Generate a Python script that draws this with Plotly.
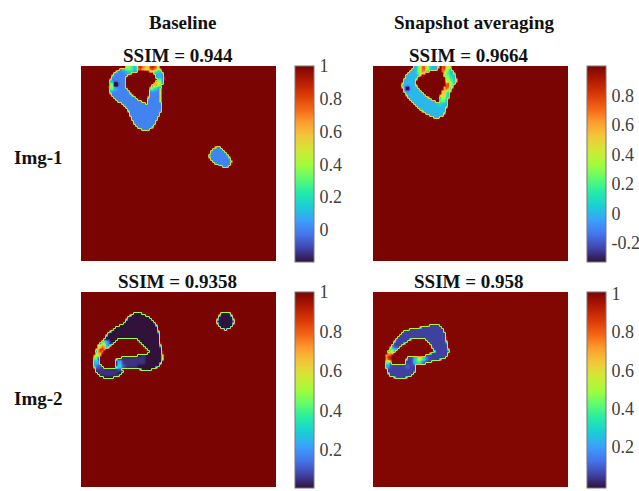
import numpy as np
import plotly.graph_objects as go

W, H = 639, 491
GRID = 98          # cells per panel side (2 px each)
FONT = "Liberation Serif"

# Region outlines. Each entry: row -> [left, right, left, right, ...]
# spans inside the region, in thirds of a picture pixel measured from the panel's left edge.
img1_baseline_spans = {
    0: [132, 232], 1: [115, 237], 2: [105, 167, 202, 242], 3: [98, 152, 215, 244], 4: [93, 140, 221, 247],
    5: [90, 134, 224, 248], 6: [87, 132, 226, 248], 7: [85, 131, 223, 247], 8: [84, 131, 217, 245],
    9: [83, 132, 211, 241], 10: [82, 134, 207, 238], 11: [83, 137, 205, 237], 12: [85, 142, 204, 237],
    13: [87, 147, 203, 237], 14: [91, 153, 202, 237], 15: [95, 161, 201, 237], 16: [101, 170, 200, 237],
    17: [108, 182, 199, 237], 18: [119, 193, 197, 239], 19: [128, 240], 20: [134, 240], 21: [138, 240],
    22: [141, 238], 23: [143, 235], 24: [146, 233], 25: [148, 230], 26: [150, 227], 27: [154, 224],
    28: [158, 221], 29: [163, 218], 30: [169, 213], 31: [178, 205],
    40: [405, 419], 41: [397, 427], 42: [392, 434], 43: [388, 438], 44: [386, 442], 45: [387, 447],
    46: [391, 451], 47: [397, 453], 48: [404, 452], 49: [412, 449], 50: [424, 442],
}
img1_snapshot_spans = {
    0: [119, 195, 203, 231], 1: [113, 191, 205, 235], 2: [108, 166, 207, 239], 3: [102, 155, 209, 243],
    4: [97, 141, 212, 246], 5: [94, 134, 214, 248], 6: [92, 129, 216, 249], 7: [89, 125, 217, 249],
    8: [87, 126, 217, 246], 9: [86, 129, 216, 241], 10: [87, 134, 212, 237], 11: [89, 138, 208, 234],
    12: [92, 142, 205, 231], 13: [95, 149, 203, 229], 14: [99, 156, 201, 227], 15: [103, 165, 199, 226],
    16: [108, 174, 198, 224], 17: [114, 185, 197, 223], 18: [121, 222], 19: [127, 221], 20: [133, 219],
    21: [140, 217], 22: [147, 215], 23: [155, 213], 24: [166, 209], 25: [179, 197],
}
img2_baseline_spans = {
    10: [157, 182], 11: [147, 194], 12: [140, 203], 13: [135, 210], 14: [131, 216], 15: [125, 220],
    16: [115, 225], 17: [103, 228], 18: [94, 229], 19: [87, 231], 20: [80, 232], 21: [75, 233], 22: [71, 235],
    23: [66, 109, 169, 235], 24: [60, 103, 172, 235], 25: [55, 94, 178, 236], 26: [50, 87, 184, 237],
    27: [47, 81, 190, 238], 28: [45, 73, 196, 240], 29: [43, 67, 204, 242], 30: [41, 62, 197, 242],
    31: [39, 57, 169, 243], 32: [38, 54, 119, 243], 33: [37, 53, 105, 243], 34: [37, 53, 101, 240],
    35: [37, 55, 101, 237], 36: [38, 59, 103, 234], 37: [39, 65, 105, 225], 38: [41, 122, 177, 209],
    39: [43, 124], 40: [48, 121], 41: [55, 112], 42: [67, 97],
}
img2_baseline_spans_spot = {
    10: [422, 448], 11: [417, 453], 12: [413, 457], 13: [411, 459], 14: [410, 460], 15: [411, 459],
    16: [414, 456], 17: [420, 450], 18: [430, 440],
}
img2_snapshot_spans = {
    16: [166, 198], 17: [141, 204], 18: [106, 209], 19: [88, 212], 20: [83, 215], 21: [78, 217], 22: [73, 218],
    23: [68, 111, 156, 218], 24: [63, 101, 163, 219], 25: [59, 93, 168, 220], 26: [55, 86, 172, 221],
    27: [51, 79, 176, 223], 28: [47, 72, 181, 225], 29: [43, 65, 183, 226], 30: [40, 58, 171, 224],
    31: [37, 54, 156, 221], 32: [36, 51, 103, 217], 33: [35, 51, 99, 201], 34: [35, 51, 96, 176],
    35: [36, 53, 95, 156], 36: [37, 127], 37: [38, 127], 38: [40, 126], 39: [42, 124], 40: [45, 121],
    41: [49, 113], 42: [63, 99],
}

# SSIM values inside the regions: (row, first column, codes) on a 4-px lattice, digit d = d/10
CODES = {"a": 0.05, "c": 0.15, "n": -0.5}
img1_baseline_vals = [
    (0, 10, "2431975983"), (1, 11, "12"), (1, 14, "5"), (1, 17, "421"), (2, 19, "1"), (3, 19, "4"),
    (4, 7, "5n"), (4, 18, "85"), (5, 7, "41"), (5, 17, "42"),
]
img1_snapshot_vals = [
    (0, 11, "384"), (0, 17, "94"), (1, 11, "47"), (1, 17, "62"), (2, 18, "31"), (3, 18, "42"),
    (4, 18, "93"), (5, 8, "n"), (5, 17, "68"), (6, 17, "61"), (7, 17, "51"), (8, 16, "23"), (9, 16, "1"),
]
img2_baseline_vals = [
    (12, 5, "52"), (13, 4, "682"), (14, 4, "99"), (15, 3, "67"), (15, 15, "a"), (16, 3, "5"),
    (16, 9, "aaaaaaa"), (17, 3, "32"), (17, 9, "3aaaaaa"), (18, 3, "c1a"), (18, 9, "41aaa"),
    (19, 3, "aaaaaaa"), (20, 4, "aaaaa"),
]
img2_snapshot_vals = [
    (13, 4, "2"), (14, 4, "53"), (15, 3, "88"), (16, 3, "99"), (16, 10, "3641"), (17, 3, "5"),
    (17, 10, "341"), (18, 3, "2"), (18, 8, "1"),
]

panels = [
    ("0.944", [img1_baseline_spans], img1_baseline_vals, 0.0, 81, 66, 295, -0.197, 1.0,
     [0, 0.2, 0.4, 0.6, 0.8, 1], ["0", "0.2", "0.4", "0.6", "0.8", "1"]),
    ("0.9664", [img1_snapshot_spans], img1_snapshot_vals, 0.0, 373, 66, 587, -0.33, 1.0,
     [-0.2, 0, 0.2, 0.4, 0.6, 0.8], ["-0.2", "0", "0.2", "0.4", "0.6", "0.8"]),
    ("0.9358", [img2_baseline_spans, img2_baseline_spans_spot], img2_baseline_vals, 0.0, 81, 292, 295, 0.006, 1.0,
     [0.2, 0.4, 0.6, 0.8, 1], ["0.2", "0.4", "0.6", "0.8", "1"]),
    ("0.958", [img2_snapshot_spans], img2_snapshot_vals, 0.05, 373, 292, 587, -0.016, 1.01,
     [0, 0.2, 0.4, 0.6, 0.8, 1], ["0", "0.2", "0.4", "0.6", "0.8", "1"]),
]
columns = ["Baseline", "Snapshot averaging"]
column_x = [182.5, 473.5]
rows = ["Img-1", "Img-2"]
row_y = [157, 398]


def soften(a):
    k = np.array([1, 4, 1]) / 6
    a = np.apply_along_axis(lambda v: np.convolve(np.pad(v, 1, mode="edge"), k, mode="valid"), 0, a)
    return np.apply_along_axis(lambda v: np.convolve(np.pad(v, 1, mode="edge"), k, mode="valid"), 1, a)


def build(span_tables, vals, base):
    mask = np.zeros((GRID, GRID))
    for table in span_tables:
        for r, spans in table.items():
            for i in range(0, len(spans), 2):
                l, h = spans[i], spans[i + 1]
                for c in range(GRID):
                    a, b = c * 6, c * 6 + 6
                    mask[r, c] += max(0, min(b, h) - max(a, l)) / 6
    inner = np.full((GRID, GRID), float(base))
    for r, c, seg in vals:
        for i, ch in enumerate(seg):
            v = CODES[ch] if ch in CODES else int(ch) / 10
            inner[2 * r:2 * r + 2, 2 * (c + i):2 * (c + i) + 2] = v
    inner = soften(inner)
    # steepen partial cells so the edge ring stays thin
    mask = np.clip((mask - 0.5) * 2.5 + 0.5, 0, 1)
    return (mask * inner + (1 - mask)).tolist()


fig = go.Figure()
size = 195
annotations = []
layout_axes = {}
title_font = dict(family=FONT, size=19, color="#111111")
for k, (ssim, spans, vals, base, left, top, cbx, zmin, zmax, tv, tt) in enumerate(panels):
    n = "" if k == 0 else str(k + 1)
    fig.add_trace(go.Heatmap(
        z=build(spans, vals, base), zmin=zmin, zmax=zmax, colorscale="Turbo", zsmooth="best",
        xaxis=f"x{n}", yaxis=f"y{n}", hoverinfo="skip",
        colorbar=dict(
            x=cbx / W, xanchor="left", xpad=0, ypad=0,
            y=1 - top / H, yanchor="top", len=(size + 1) / H, lenmode="fraction",
            thickness=19, thicknessmode="pixels",
            outlinewidth=1, outlinecolor="#777777",
            tickmode="array", tickvals=tv, ticktext=tt,
            ticks="outside", ticklen=2, tickcolor="rgba(0,0,0,0)",
            tickfont=dict(family=FONT, size=18, color="#404040"),
        ),
    ))
    axis = dict(showticklabels=False, ticks="", showgrid=False, zeroline=False, showline=False)
    layout_axes[f"xaxis{n}"] = dict(domain=[left / W, (left + size) / W], range=[-0.5, GRID - 0.5], **axis)
    layout_axes[f"yaxis{n}"] = dict(domain=[1 - (top + size) / H, 1 - top / H], range=[GRID - 0.5, -0.5], **axis)
    annotations.append(dict(text=f"<b>SSIM = {ssim}</b>", xref="paper", yref="paper",
                            x=(left + size / 2 - 1) / W, y=1 - (top - 11) / H, showarrow=False,
                            xanchor="center", yanchor="middle", font=title_font))

for text, cx in zip(columns, column_x):
    annotations.append(dict(text=f"<b>{text}</b>", xref="paper", yref="paper", x=cx / W, y=1 - 22 / H,
                            showarrow=False, xanchor="center", yanchor="middle", font=title_font))
for text, cy in zip(rows, row_y):
    annotations.append(dict(text=f"<b>{text}</b>", xref="paper", yref="paper", x=38.5 / W, y=1 - cy / H,
                            showarrow=False, xanchor="center", yanchor="middle", font=title_font))

fig.update_layout(width=W, height=H, margin=dict(l=0, r=0, t=0, b=0, autoexpand=False),
                  paper_bgcolor="white", plot_bgcolor="white", annotations=annotations,
                  showlegend=False, **layout_axes)
fig.write_html("out.html", config={"displayModeBar": False},
               post_script="document.body.style.margin='0';document.body.style.overflow='hidden';")
